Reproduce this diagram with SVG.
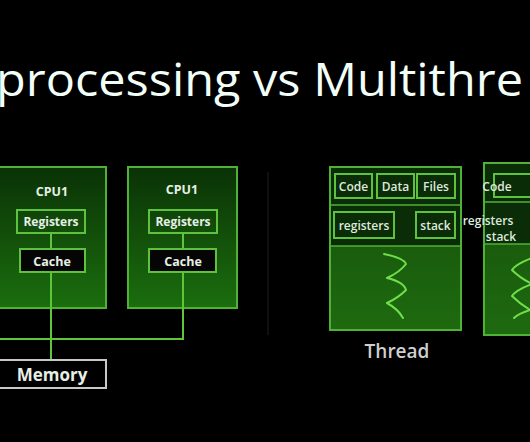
<svg xmlns="http://www.w3.org/2000/svg" width="530" height="442" viewBox="0 0 530 442">
<defs>
<linearGradient id="gCpu" x1="0" y1="0" x2="0" y2="1">
<stop offset="0" stop-color="#0a3206"/>
<stop offset="1" stop-color="#1b6e0e"/>
</linearGradient>
<linearGradient id="gThr" x1="0" y1="0" x2="0" y2="1">
<stop offset="0" stop-color="#164f0a"/>
<stop offset="1" stop-color="#1e6a10"/>
</linearGradient>
<style>
.box{stroke:#4fb236;stroke-width:2}
.inner{fill:none;stroke:#5fc23f;stroke-width:2}
.blk{fill:#050505;stroke:#5fc23f;stroke-width:2}
.wire{fill:none;stroke:#5ec63a;stroke-width:2}
.lbl{font-family:"Open Sans","Liberation Sans",sans-serif;font-weight:700;fill:#e6efe6;text-anchor:middle}
.sm{font-family:"Open Sans","Liberation Sans",sans-serif;font-weight:600;fill:#dfe9df;text-anchor:middle;font-size:12px}
.sq{fill:none;stroke:#6fe04a;stroke-width:2;stroke-linejoin:round;stroke-linecap:round}
</style>
</defs>
<rect width="530" height="442" fill="#000"/>
<text x="-4" y="96" font-family="'Open Sans','Noto Sans',sans-serif" font-size="46" font-weight="500" fill="#f2fff8" textLength="527" lengthAdjust="spacingAndGlyphs">processing vs Multithre</text>
<line x1="268" y1="172" x2="268" y2="335" stroke="#141414" stroke-width="1.5"/>
<g id="cpu1">
<rect class="box" x="-2" y="167" width="108" height="141" fill="url(#gCpu)"/>
<text class="lbl" x="52" y="196" font-size="12.5">CPU1</text>
</g>
<g id="cpu2">
<rect class="box" x="128" y="167" width="109" height="141" fill="url(#gCpu)"/>
<text class="lbl" x="182" y="194" font-size="12.5">CPU1</text>
</g>
<g id="connectors">
<line class="wire" x1="51" y1="233" x2="51" y2="249"/>
<line class="wire" x1="51" y1="272" x2="51" y2="360"/>
<line class="wire" x1="183" y1="233" x2="183" y2="249"/>
<polyline class="wire" points="183,272 183,339 -2,339"/>
</g>
<g id="registers1">
<rect class="inner" x="17" y="210" width="68" height="23" fill="#0e3d08"/>
<text class="lbl" x="51" y="226" font-size="12">Registers</text>
</g>
<g id="cache1">
<rect class="blk" x="20" y="249" width="65" height="23"/>
<text class="lbl" x="52" y="266" font-size="12.5">Cache</text>
</g>
<g id="registers2">
<rect class="inner" x="149" y="210" width="68" height="23" fill="#0e3d08"/>
<text class="lbl" x="183" y="226" font-size="12">Registers</text>
</g>
<g id="cache2">
<rect class="blk" x="149" y="249" width="67" height="23"/>
<text class="lbl" x="183" y="266" font-size="12.5">Cache</text>
</g>
<g id="memory">
<rect x="-4" y="360" width="110" height="28" fill="#000" stroke="#c8c8c8" stroke-width="2"/>
<text class="lbl" x="52" y="381" font-size="17" fill="#f0f0f0">Memory</text>
</g>
<g id="thread1">
<rect class="box" x="330" y="167" width="131" height="163" fill="url(#gThr)"/>
<rect x="331" y="168" width="129" height="78" fill="#0a2c06"/>
<line x1="330" y1="205" x2="461" y2="205" stroke="#4fb236" stroke-width="1.5"/>
<line x1="330" y1="246" x2="461" y2="246" stroke="#4fb236" stroke-width="1.5"/>
<rect class="inner" x="335" y="174" width="37" height="24"/>
<text class="sm" x="353.5" y="191">Code</text>
<rect class="inner" x="377" y="174" width="37" height="24"/>
<text class="sm" x="395.5" y="191">Data</text>
<rect class="inner" x="417" y="174" width="38" height="24"/>
<text class="sm" x="436" y="191">Files</text>
<rect class="inner" x="334" y="212" width="60" height="26"/>
<text class="sm" x="364" y="230">registers</text>
<rect class="inner" x="416" y="212" width="39" height="26"/>
<text class="sm" x="435.5" y="230">stack</text>
<path class="sq" d="M384,254 Q404,258 406,264 Q400,272 387,278 Q404,282 406,290 Q398,298 387,303 Q398,309 403,318"/>
<text x="397" y="358" font-family="'Open Sans','Liberation Sans',sans-serif" font-size="19" font-weight="600" fill="#cfcfcf" text-anchor="middle">Thread</text>
</g>
<g id="thread2">
<rect class="box" x="484" y="163" width="52" height="172" fill="url(#gThr)"/>
<rect x="485" y="164" width="46" height="80" fill="#0a2c06"/>
<line x1="484" y1="202" x2="531" y2="202" stroke="#4fb236" stroke-width="1.5"/>
<line x1="484" y1="244" x2="531" y2="244" stroke="#4fb236" stroke-width="1.5"/>
<rect class="inner" x="494" y="174" width="45" height="23"/>
<text class="sm" x="497" y="191" text-anchor="start" font-size="12.5">Code</text>
<text class="sm" x="488" y="225" text-anchor="start" font-size="11.5">registers</text>
<text class="sm" x="501" y="241" text-anchor="start" font-size="11.5">stack</text>
<path class="sq" d="M532,258 Q516,264 512,270 Q520,278 532,284 Q516,290 512,296 Q520,304 530,310 Q518,314 514,318"/>
</g>
</svg>
